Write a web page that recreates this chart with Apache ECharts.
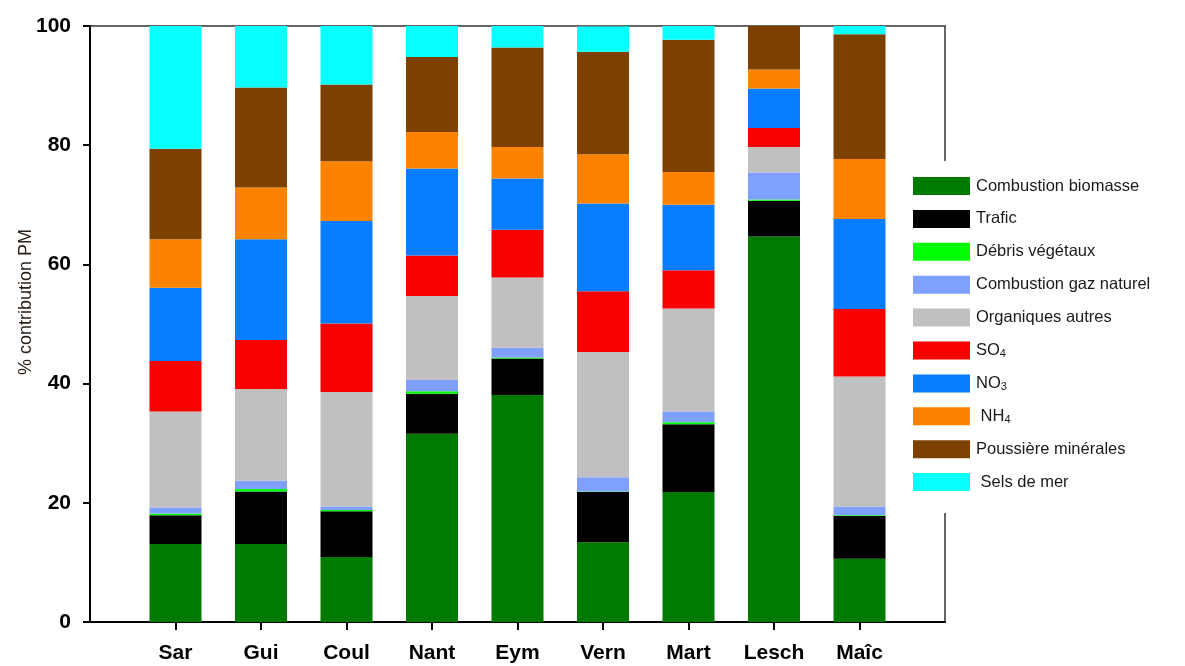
<!DOCTYPE html>
<html>
<head>
<meta charset="utf-8">
<title>% contribution PM</title>
<script src="https://cdn.jsdelivr.net/npm/echarts@6/dist/echarts.min.js"></script>
<style>
  html, body { margin: 0; padding: 0; background: #fff; }
  #chart { width: 1185px; height: 666px; }
</style>
</head>
<body>
<div id="chart"></div>
<script>
// Sites (one stacked bar each)
const sites = ['Sar', 'Gui', 'Coul', 'Nant', 'Eym', 'Vern', 'Mart', 'Lesch', 'Maîc'];

// Source contributions, % of PM, bottom to top of each bar
const combustionBiomasse = [13.1, 13.1, 10.9, 31.6, 38.1, 13.4, 21.8, 64.7, 10.6];
const trafic             = [4.8, 8.8, 7.7, 6.7, 6.1, 8.4, 11.4, 6.0, 7.2];
const debrisVegetaux     = [0.3, 0.4, 0.2, 0.4, 0.2, 0.1, 0.3, 0.2, 0.1];
const combustionGaz      = [1.0, 1.4, 0.6, 1.9, 1.6, 2.4, 1.8, 4.5, 1.5];
const organiquesAutres   = [16.1, 15.4, 19.2, 14.1, 11.8, 21.0, 17.3, 4.3, 21.8];
const so4                = [8.5, 8.2, 11.5, 6.8, 8.0, 10.2, 6.4, 3.2, 11.3];
const no3                = [12.3, 16.9, 17.2, 14.6, 8.6, 14.7, 11.0, 6.6, 15.1];
const nh4                = [8.1, 8.7, 10.0, 6.1, 5.3, 8.3, 5.5, 3.2, 10.1];
const poussiere          = [15.2, 16.8, 12.9, 12.6, 16.7, 17.2, 22.2, 7.4, 20.9];
const selsDeMer          = [20.6, 10.3, 9.8, 5.2, 3.6, 4.2, 2.3, 0.0, 1.4];

// Y axis ticks
const yTicks = [0, 20, 40, 60, 80, 100];

const layers = [
  { name: 'Combustion biomasse',      data: combustionBiomasse, color: '#007a00' },
  { name: 'Trafic',                   data: trafic,             color: '#000000' },
  { name: 'Débris végétaux',          data: debrisVegetaux,     color: '#00ff00' },
  { name: 'Combustion gaz naturel',   data: combustionGaz,      color: '#80a0ff' },
  { name: 'Organiques autres',        data: organiquesAutres,   color: '#c0c0c0' },
  { name: 'SO4',                      data: so4,                color: '#f80000' },
  { name: 'NO3',                      data: no3,                color: '#087dff' },
  { name: 'NH4',                      data: nh4,                color: '#fb8300' },
  { name: 'Poussière minérales',      data: poussiere,          color: '#7c4100' },
  { name: 'Sels de mer',              data: selsDeMer,          color: '#08ffff' }
];

// Empty slots at both ends leave a half-gap before the first and after the last bar
const categories = [''].concat(sites, ['']);
const pad = arr => [null].concat(arr, [null]);

const legendLabels = {
  'SO4': 'SO{sub|4}',
  'NO3': 'NO{sub|3}',
  'NH4': ' NH{sub|4}',
  'Sels de mer': ' Sels de mer'
};

const font = '"Liberation Sans", Arial, Helvetica, sans-serif';

const chart = echarts.init(document.getElementById('chart'), null, { renderer: 'canvas' });

chart.setOption({
  animation: false,
  backgroundColor: '#ffffff',
  textStyle: { fontFamily: font },
  grid: {
    left: 90, right: 240, top: 26, bottom: 44,
    show: true, borderColor: '#333333', borderWidth: 1.5,
    backgroundColor: 'transparent'
  },
  legend: {
    orient: 'vertical',
    left: 893, top: 161,
    padding: [16, 20, 22, 20],
    backgroundColor: '#ffffff',
    itemWidth: 57, itemHeight: 18, itemGap: 14.9,
    icon: 'rect',
    selectedMode: false,
    data: layers.map(l => l.name),
    formatter: name => legendLabels[name] || name,
    textStyle: {
      fontFamily: font, fontSize: 16.5, color: '#1a1a1a', lineHeight: 18,
      padding: [0, 0, 0, 1],
      rich: {
        sub: { fontSize: 11, verticalAlign: 'bottom', padding: [6, 0, 0, 0], lineHeight: 12 }
      }
    }
  },
  xAxis: {
    type: 'category',
    data: categories,
    boundaryGap: false,
    axisLine: { lineStyle: { color: '#000', width: 2 } },
    axisTick: {
      length: 8, lineStyle: { color: '#000', width: 2 },
      interval: (i, v) => v !== ''
    },
    axisLabel: {
      interval: 0, margin: 21,
      fontFamily: font, fontSize: 21, fontWeight: 'bold', color: '#000'
    },
    splitLine: { show: false }
  },
  yAxis: {
    type: 'value',
    min: yTicks[0], max: yTicks[yTicks.length - 1], interval: yTicks[1] - yTicks[0],
    name: '% contribution PM',
    nameLocation: 'middle',
    nameGap: 55,
    nameMoveOverlap: false,
    nameTextStyle: { fontFamily: font, fontSize: 18, color: '#2a2018', padding: [0, 0, 0, 44] },
    axisLine: { show: true, lineStyle: { color: '#000', width: 2 } },
    axisTick: { show: true, length: 7, lineStyle: { color: '#000', width: 2 } },
    axisLabel: {
      margin: 19,
      fontFamily: font, fontSize: 21, fontWeight: 'bold', color: '#000'
    },
    splitLine: { show: false }
  },
  series: layers.map(l => ({
    name: l.name,
    type: 'bar',
    stack: 'total',
    barWidth: 52,
    data: pad(l.data),
    itemStyle: { color: l.color },
    emphasis: { disabled: true }
  }))
});
</script>
</body>
</html>
